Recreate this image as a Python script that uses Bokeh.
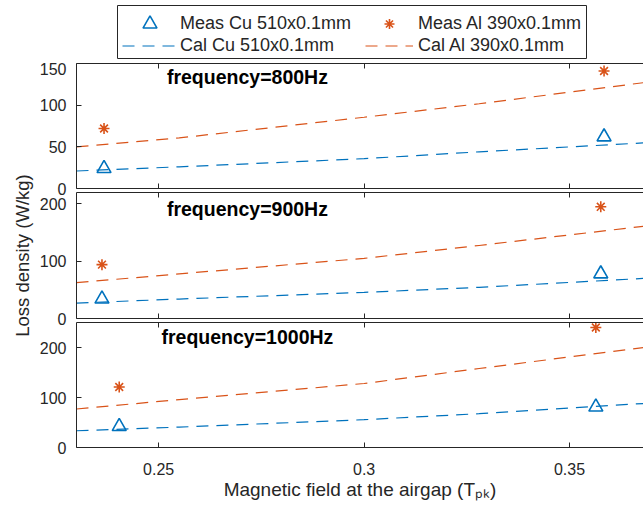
from bokeh.plotting import figure
from bokeh.models import (Range1d, LinearAxis, FixedTicker, Label, Legend, LegendItem,
                          CustomLabelingPolicy, Spacer)
from bokeh.layouts import column, row
from bokeh.embed import file_html
from bokeh.resources import INLINE

# ---------------- data ----------------
x_meas_800 = [0.2367, 0.3584]
meas_cu_800 = [24, 62]
meas_al_800 = [72, 141]
x_meas_900 = [0.2362, 0.3576]
meas_cu_900 = [34, 78]
meas_al_900 = [94, 195]
x_meas_1000 = [0.2404, 0.3564]
meas_cu_1000 = [42, 81]
meas_al_1000 = [121, 240]

x_cal = [0.23, 0.255, 0.30, 0.328, 0.368]
cal_cu_800 = [21, 26, 35.8, 44, 54.7]
cal_al_800 = [50, 60.7, 85.5, 101.7, 127]
cal_cu_900 = [27, 34, 45.6, 54.4, 70]
cal_al_900 = [62.6, 77.9, 105, 127.5, 161]
cal_cu_1000 = [33.5, 40.8, 55.6, 67.7, 88]
cal_al_1000 = [77, 95.8, 128, 158, 200]

x_ticks = [0.25, 0.3, 0.35]
x_tick_labels = ["0.25", "0.3", "0.35"]
titles = ["frequency=800Hz", "frequency=900Hz", "frequency=1000Hz"]
y_limits = [(0, 150), (0, 220), (0, 250)]
y_ticks = [[0, 50, 100, 150], [0, 100, 200], [0, 100, 200]]
title_y = [134, 192, 221]
legend_labels = ["Meas Cu 510x0.1mm", "Meas Al 390x0.1mm", "Cal Cu 510x0.1mm", "Cal Al 390x0.1mm"]
x_label = "Magnetic field at the airgap (T\u209a\u2096)"
y_label = "Loss density (W/kg)"

BLUE = "#0072BD"
ORANGE = "#D95319"
DARK = "#262626"
FONT = "Liberation Sans"
DASH = "12 8"

panels = [
    (x_meas_800, meas_cu_800, meas_al_800, cal_cu_800, cal_al_800),
    (x_meas_900, meas_cu_900, meas_al_900, cal_cu_900, cal_al_900),
    (x_meas_1000, meas_cu_1000, meas_al_1000, cal_cu_1000, cal_al_1000),
]
heights = [135, 136, 187]
tops = [1, 1, 1]
bottoms = [9, 9, 61]
overlap = [0, -6, -6]   # later panels slide up under the previous panel's bottom border
YW = 36          # y-label strip width
W = 643 - YW     # main column width


def no_labels():
    return CustomLabelingPolicy(code="for (const i of indices) { if (i < 0) yield i }")


def style_axis(ax):
    ax.axis_line_color = DARK
    ax.major_tick_line_color = DARK
    ax.major_tick_in = 5
    ax.major_tick_out = 0
    ax.minor_tick_line_color = None
    ax.major_label_text_font = FONT
    ax.major_label_text_font_size = "16px"
    ax.major_label_text_color = DARK
    ax.axis_label_text_font = FONT
    ax.axis_label_text_font_style = "normal"
    ax.axis_label_text_color = DARK
    ax.axis_label_text_font_size = "19px"


figs = []
for i, (xm, mcu, mal, ccu, cal) in enumerate(panels):
    p = figure(width=W, height=heights[i], x_range=Range1d(0.23, 0.368),
               y_range=Range1d(*y_limits[i]), output_backend="svg",
               toolbar_location=None, min_border_left=75 - YW, min_border_right=0,
               min_border_top=tops[i], min_border_bottom=bottoms[i],
               x_axis_location=None, y_axis_location=None,
               margin=(overlap[i], 0, 0, 0))
    p.outline_line_color = None
    p.xgrid.visible = False
    p.ygrid.visible = False
    p.border_fill_alpha = 0.0
    p.background_fill_alpha = 0.0

    left = LinearAxis(ticker=FixedTicker(ticks=y_ticks[i]))
    below = LinearAxis(ticker=FixedTicker(ticks=x_ticks))
    above = LinearAxis(ticker=FixedTicker(ticks=x_ticks))
    for ax in (left, below, above):
        style_axis(ax)
    left.major_label_standoff = 10
    if i == 2:
        below.major_label_overrides = {t: s for t, s in zip(x_ticks, x_tick_labels)}
        below.major_label_standoff = 15
        below.axis_label = x_label
        below.axis_label_standoff = 1
    else:
        below.major_label_policy = no_labels()
        below.major_label_text_font_size = "0px"
        below.major_label_standoff = 0
    above.major_label_policy = no_labels()
    above.major_label_text_font_size = "0px"
    above.major_label_standoff = 0
    p.add_layout(left, "left")
    p.add_layout(below, "below")
    p.add_layout(above, "above")

    p.line(x_cal, ccu, line_color=BLUE, line_width=1.2, line_dash=DASH)
    p.line(x_cal, cal, line_color=ORANGE, line_width=1.2, line_dash=DASH)
    p.scatter(xm, mcu, marker="triangle", size=14, fill_color=None,
              line_color=BLUE, line_width=1.6)
    p.scatter(xm, mal, marker="asterisk", size=11, line_color=ORANGE, line_width=1.6)

    p.add_layout(Label(x=0.2716, y=title_y[i], text=titles[i], text_align="center",
                       text_baseline="middle", text_font=FONT, text_font_size="19.5px",
                       text_font_style="bold", text_color="black"))
    figs.append(p)

# ---------------- legend box ----------------
# its frame is the legend box; the keys reuse the 800 Hz series, kept out of view by the y range
LG_LEFT = 117
lg = figure(width=643 - LG_LEFT, height=62, x_range=Range1d(0.23, 0.368),
            y_range=Range1d(1000, 1001), output_backend="svg", toolbar_location=None,
            min_border_left=0, min_border_right=57, min_border_top=5, min_border_bottom=4,
            x_axis_location=None, y_axis_location=None)
lg.outline_line_color = DARK
lg.outline_line_width = 1
lg.xgrid.visible = False
lg.ygrid.visible = False
k_mcu = lg.scatter(x_meas_800, meas_cu_800, marker="triangle", size=14, fill_color=None,
                   line_color=BLUE, line_width=1.6)
k_mal = lg.scatter(x_meas_800, meas_al_800, marker="asterisk", size=11,
                   line_color=ORANGE, line_width=1.6)
k_ccu = lg.line(x_cal, cal_cu_800, line_color=BLUE, line_width=1.2, line_dash=DASH)
k_cal = lg.line(x_cal, cal_al_800, line_color=ORANGE, line_width=1.2, line_dash=DASH)

common = dict(label_text_font=FONT, label_text_font_size="18px", label_text_color=DARK,
              label_height=20, spacing=0, padding=0, margin=0,
              border_line_color=None, background_fill_alpha=0.0)
legends = [
    Legend(items=[LegendItem(label=legend_labels[0], renderers=[k_mcu])],
           location=(5, 17), glyph_width=55, glyph_height=35, label_standoff=3, **common),
    Legend(items=[LegendItem(label=legend_labels[2], renderers=[k_ccu])],
           location=(5, -5), glyph_width=55, glyph_height=35, label_standoff=3, **common),
    Legend(items=[LegendItem(label=legend_labels[1], renderers=[k_mal])],
           location=(248, 22), glyph_width=48, glyph_height=25, label_standoff=5, **common),
    Legend(items=[LegendItem(label=legend_labels[3], renderers=[k_cal])],
           location=(248, -5), glyph_width=48, glyph_height=35, label_standoff=5, **common),
]
for leg in legends:
    lg.add_layout(leg, "center")

# ---------------- y label strip ----------------
yl = figure(width=YW, height=508, x_range=Range1d(0, 1), y_range=Range1d(0, 1),
            output_backend="svg", toolbar_location=None, min_border=0,
            x_axis_location=None, y_axis_location=None)
yl.outline_line_color = None
yl.xgrid.visible = False
yl.ygrid.visible = False
yl.add_layout(Label(x=22, y=253, x_units="screen", y_units="screen", text=y_label,
                    angle=90, angle_units="deg", text_align="center",
                    text_baseline="middle", text_font=FONT, text_font_size="18.5px",
                    text_color=DARK))

top_strip = row(Spacer(width=LG_LEFT - YW, height=62), lg, spacing=0)
layout = row(yl, column(top_strip, *figs, spacing=0), spacing=0)
open("out.html", "w").write(file_html(layout, INLINE))
